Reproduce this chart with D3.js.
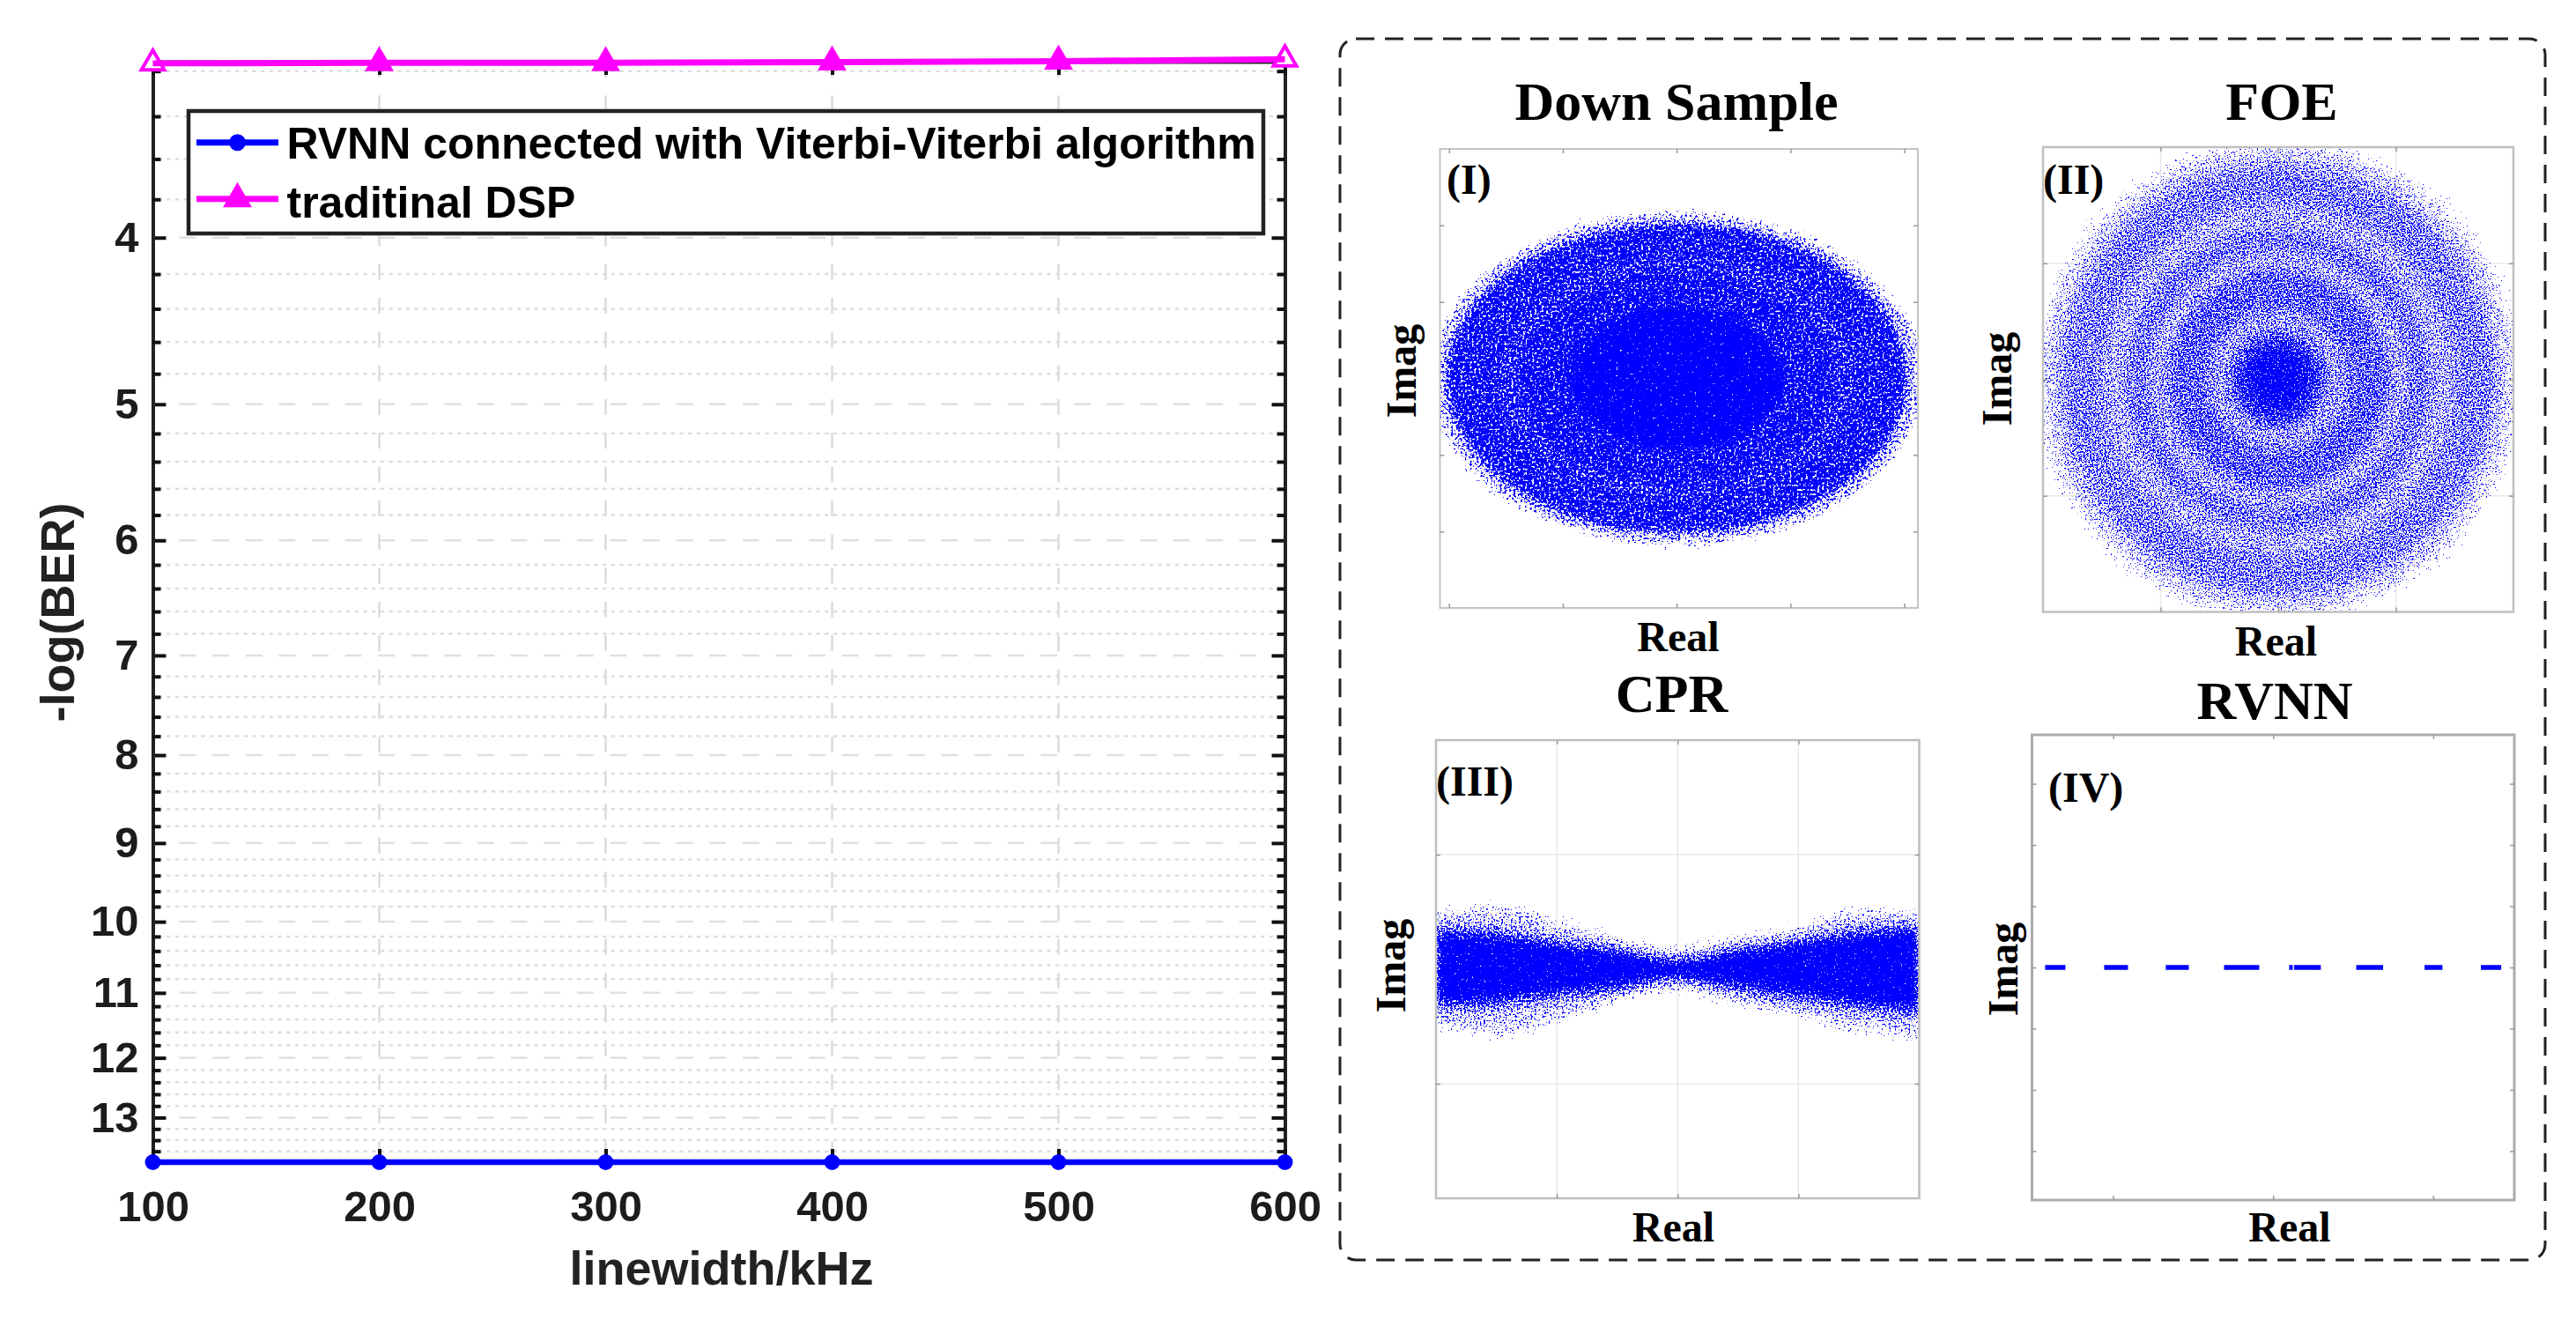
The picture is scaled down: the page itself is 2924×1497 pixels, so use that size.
<!DOCTYPE html>
<html>
<head>
<meta charset="utf-8">
<title>BER vs linewidth</title>
<script src="https://cdnjs.cloudflare.com/ajax/libs/d3/7.8.5/d3.min.js"></script>
<style>
body { margin:0; background:#fff; }
svg { display:block; }
.sans { font-family:"Liberation Sans",Arial,sans-serif; font-weight:bold; }
.serif { font-family:"Liberation Serif","Times New Roman",serif; font-weight:bold; }
</style>
</head>
<body>
<svg id="chart" width="2924" height="1497"></svg>
<script>
// left chart values
var linewidth = [100,200,300,400,500,600]
var rvnnBer = [13.8,13.8,13.8,13.8,13.8,13.8]
var dspBer = [3.167,3.165,3.165,3.162,3.158,3.15]
var yMajor = [4,5,6,7,8,9,10,11,12,13]
var yMinor = [3.2,3.4,3.6,3.8,4.2,4.4,4.6,4.8,5.2,5.4,5.6,5.8,6.2,6.4,6.6,6.8,7.2,7.4,7.6,7.8,
    8.2,8.4,8.6,8.8,9.2,9.4,9.6,9.8,10.2,10.4,10.6,10.8,11.2,11.4,11.6,11.8,12.2,12.4,12.6,12.8,13.2,13.4,13.6]
var legendLabels = ["RVNN connected with Viterbi-Viterbi algorithm","traditinal DSP"]

// panel I cloud, read as density bands (radius in axis units)
var bandInnerI = [2.02,1.55,1.4,0.95,0]
var bandOuterI = [2.14,2.02,1.55,1.4,0.95]
var bandDensityI = [0.35,0.92,0.84,0.98,1.3]

// panel II cloud
var bandInnerII = [1.85,1.5,1.3,1.1,0.95,0.6,0.4,0.27,0]
var bandOuterII = [2,1.85,1.5,1.3,1.1,0.95,0.6,0.4,0.27]
var bandDensityII = [0.25,0.52,0.36,0.56,0.36,0.64,0.42,0.85,1.15]

// panel III cloud, envelope read at each Real position
var cprX = [-2,-1.5,-1,-0.5,0,0.5,1,1.5,2]
var cprCoreUpper = [0.3,0.27,0.2,0.14,0.07,0.14,0.21,0.28,0.32]
var cprCoreLower = [-0.28,-0.25,-0.2,-0.14,-0.07,-0.14,-0.21,-0.28,-0.32]
var cprMidUpper = [0.37,0.34,0.25,0.19,0.1,0.19,0.27,0.35,0.38]
var cprMidLower = [-0.35,-0.32,-0.25,-0.19,-0.1,-0.19,-0.27,-0.35,-0.4]
var cprFringeUpper = [0.47,0.52,0.4,0.235,0.145,0.25,0.325,0.49,0.47]
var cprFringeLower = [-0.47,-0.54,-0.43,-0.235,-0.145,-0.27,-0.38,-0.5,-0.58]

// panel IV dashes on the Imag=0 line
var rvnnDashStart = [-1.425,-1.056,-0.671,-0.307,0.1,0.13,0.519,0.946,1.298]
var rvnnDashEnd = [-1.298,-0.907,-0.527,-0.087,0.122,0.298,0.687,1.058,1.425]

var blue = "#0000ff"
var magenta = "#ff00ff"

var svg = d3.select("#chart")
var defs = svg.append("defs")

// left chart ------------------------------------------------------
var plot = {left:173.5, right:1458.5, top:70, bottom:1319}

var xScale = d3.scaleLinear().domain([100,600]).range([plot.left,plot.right])
var yScale = d3.scaleLog().domain([3.16,13.8]).range([plot.top,plot.bottom])

var grid = svg.append("g").attr("id","grid")

grid.selectAll(".minor").data(yMinor).enter().append("line")
    .attr("class","minor")
    .attr("x1",plot.left+6).attr("x2",plot.right)
    .attr("y1",function(d){ return yScale(d) })
    .attr("y2",function(d){ return yScale(d) })
    .attr("stroke","#dedede").attr("stroke-width",2.5)
    .attr("stroke-dasharray","4.5 5.2")

grid.selectAll(".major").data(yMajor).enter().append("line")
    .attr("class","major")
    .attr("x1",plot.left).attr("x2",plot.right)
    .attr("y1",function(d){ return yScale(d) })
    .attr("y2",function(d){ return yScale(d) })
    .attr("stroke","#e0e0e0").attr("stroke-width",2.5)
    .attr("stroke-dasharray","19 18.6").attr("stroke-dashoffset",7.5)

grid.selectAll(".vert").data(linewidth.slice(1,5)).enter().append("line")
    .attr("class","vert")
    .attr("x1",function(d){ return xScale(d) })
    .attr("x2",function(d){ return xScale(d) })
    .attr("y1",plot.top).attr("y2",plot.bottom)
    .attr("stroke","#dcdcdc").attr("stroke-width",2.5)
    .attr("stroke-dasharray","18 20.3")

var drawAxis = function(axis, x, y)
{
    var g = svg.append("g")
        .attr("transform","translate("+x+","+y+")")
        .call(axis)
    g.select(".domain").attr("stroke","#222").attr("stroke-width",4)
    g.selectAll("line").attr("stroke","#111").attr("stroke-width",4)
    g.selectAll("text").attr("class","sans").attr("font-size",49).attr("fill","#1c1c1c")
    return g
}

drawAxis(d3.axisLeft(yScale).tickValues(yMajor).tickFormat(d3.format("d")).tickSize(-15).tickSizeOuter(0).tickPadding(16),plot.left,0)
drawAxis(d3.axisLeft(yScale).tickValues(yMinor).tickFormat("").tickSize(-9).tickSizeOuter(0),plot.left,0)
drawAxis(d3.axisRight(yScale).tickValues(yMajor).tickFormat("").tickSize(-15).tickSizeOuter(0),plot.right,0)
drawAxis(d3.axisRight(yScale).tickValues(yMinor).tickFormat("").tickSize(-9).tickSizeOuter(0),plot.right,0)
drawAxis(d3.axisBottom(xScale).tickValues(linewidth).tickFormat(d3.format("d")).tickSize(-15).tickSizeOuter(0).tickPadding(32),0,plot.bottom)
drawAxis(d3.axisTop(xScale).tickValues(linewidth).tickFormat("").tickSize(-15).tickSizeOuter(0),0,plot.top)

var line = d3.line()
    .x(function(d){ return xScale(d.x) })
    .y(function(d){ return yScale(d.y) })

var zipSeries = function(values)
{
    return linewidth.map(function(x,i){ return {x:x, y:values[i]} })
}

svg.append("path").datum(zipSeries(rvnnBer))
    .attr("d",line).attr("fill","none").attr("stroke",blue).attr("stroke-width",6.5)

svg.append("g").selectAll("circle").data(zipSeries(rvnnBer)).enter().append("circle")
    .attr("cx",function(d){ return xScale(d.x) })
    .attr("cy",function(d){ return yScale(d.y) })
    .attr("r",9).attr("fill",blue)

var triangle = d3.symbol().type(d3.symbolTriangle).size(292)

svg.append("g").selectAll("path").data(zipSeries(dspBer)).enter().append("path")
    .attr("d",triangle)
    .attr("transform",function(d){ return "translate("+xScale(d.x)+","+yScale(d.y)+")" })
    .attr("fill",function(d,i){ return (i==0||i==5) ? "#fff" : magenta })
    .attr("stroke",magenta).attr("stroke-width",4)
svg.append("path").datum(zipSeries(dspBer))
    .attr("d",line).attr("fill","none").attr("stroke",magenta).attr("stroke-width",7)

svg.append("text").attr("class","sans")
    .attr("x",819).attr("y",1458).attr("text-anchor","middle")
    .attr("font-size",54).attr("fill","#222").text("linewidth/kHz")

svg.append("text").attr("class","sans")
    .attr("transform","translate(84,695) rotate(-90)").attr("text-anchor","middle")
    .attr("font-size",54).attr("fill","#222").text("-log(BER)")

// legend
var legend = svg.append("g").attr("id","legend")
legend.append("rect")
    .attr("x",214).attr("y",126).attr("width",1220).attr("height",139)
    .attr("fill","#fff").attr("stroke","#222").attr("stroke-width",4.5)

var legendY = [161.7,225.7]
var legendBase = [180,246.5]
var legendColor = [blue,magenta]

legend.selectAll(".sample").data(legendLabels).enter().append("line")
    .attr("class","sample")
    .attr("x1",223).attr("x2",316)
    .attr("y1",function(d,i){ return legendY[i] })
    .attr("y2",function(d,i){ return legendY[i] })
    .attr("stroke",function(d,i){ return legendColor[i] }).attr("stroke-width",7)

legend.append("circle").attr("cx",269.5).attr("cy",legendY[0]).attr("r",9.5).attr("fill",blue)
legend.append("path").attr("d",triangle)
    .attr("transform","translate(269.5,"+legendY[1]+")")
    .attr("fill",magenta).attr("stroke",magenta).attr("stroke-width",4)

legend.selectAll("text").data(legendLabels).enter().append("text")
    .attr("class","sans")
    .attr("x",325.5)
    .attr("y",function(d,i){ return legendBase[i] })
    .attr("font-size",50).attr("fill","#000")
    .text(function(d){ return d })

// right panels ----------------------------------------------------
svg.append("rect")
    .attr("x",1521).attr("y",44).attr("width",1368).attr("height",1386)
    .attr("rx",18).attr("ry",18)
    .attr("fill","none").attr("stroke","#222").attr("stroke-width",3)
    .attr("stroke-dasharray","21 12")

// speckle texture for the dense clouds: noise is only a visual grain over the read bands
var speckle = function(id, density, freq, jitter)
{
    var f = defs.append("filter").attr("id",id)
        .attr("x","-50%").attr("y","-50%").attr("width","200%").attr("height","200%")
        .attr("color-interpolation-filters","sRGB")
    f.append("feTurbulence").attr("type","fractalNoise")
        .attr("baseFrequency",freq).attr("numOctaves",2).attr("seed",7).attr("result","n")
    f.append("feDisplacementMap").attr("in","SourceGraphic").attr("in2","n")
        .attr("scale",jitter).attr("xChannelSelector","R").attr("yChannelSelector","G").attr("result","d")
    var t = 0.65-0.35*density
    var c = f.append("feComponentTransfer").attr("in","n").attr("result","m")
    c.append("feFuncA").attr("type","linear").attr("slope",12).attr("intercept",-12*t)
    f.append("feComposite").attr("in","d").attr("in2","m").attr("operator","in")
    return "url(#"+id+")"
}

var drawFrame = function(p)
{
    p.g.append("rect")
        .attr("x",p.x0).attr("y",p.y0)
        .attr("width",p.x1-p.x0).attr("height",p.y1-p.y0)
        .attr("fill","none").attr("stroke",p.frame).attr("stroke-width",p.frameWidth)
}

var panelCount = 0

var makePanel = function(p)
{
    p.g = svg.append("g").attr("class","panel")
    p.sx = d3.scaleLinear().domain(p.xDomain).range([p.x0,p.x1])
    p.sy = d3.scaleLinear().domain(p.yDomain).range([p.y1,p.y0])

    panelCount = panelCount+1
    defs.append("clipPath").attr("id","clip"+panelCount)
        .append("rect")
        .attr("x",p.x0).attr("y",p.y0)
        .attr("width",p.x1-p.x0).attr("height",p.y1-p.y0)

    if(p.grid)
    {
        p.g.selectAll(".gx").data(p.xTicks).enter().append("line")
            .attr("x1",function(d){ return p.sx(d) }).attr("x2",function(d){ return p.sx(d) })
            .attr("y1",p.y0).attr("y2",p.y1)
            .attr("stroke","#e8e8e8").attr("stroke-width",1.5)
        p.g.selectAll(".gy").data(p.yTicks).enter().append("line")
            .attr("y1",function(d){ return p.sy(d) }).attr("y2",function(d){ return p.sy(d) })
            .attr("x1",p.x0).attr("x2",p.x1)
            .attr("stroke","#e8e8e8").attr("stroke-width",1.5)
    }
    p.cloud = p.g.append("g").attr("clip-path","url(#clip"+panelCount+")")
    return p
}

var drawTicks = function(p)
{
    var axes = [
        {a:d3.axisBottom(p.sx).tickValues(p.xTicks), x:0, y:p.y1},
        {a:d3.axisTop(p.sx).tickValues(p.xTicks), x:0, y:p.y0},
        {a:d3.axisLeft(p.sy).tickValues(p.yTicks), x:p.x0, y:0},
        {a:d3.axisRight(p.sy).tickValues(p.yTicks), x:p.x1, y:0}
    ]
    axes.forEach(function(s){
        var g = p.g.append("g")
            .attr("transform","translate("+s.x+","+s.y+")")
            .call(s.a.tickSize(-5).tickSizeOuter(0).tickFormat(""))
        g.select(".domain").remove()
        g.selectAll("line").attr("stroke","#999").attr("stroke-width",1.5)
    })
}

var drawLabels = function(p)
{
    var txt = function(x,y,size,s){
        return p.g.append("text").attr("class","serif")
            .attr("x",x).attr("y",y).attr("font-size",size).attr("fill","#000").text(s)
    }
    txt(p.titleX,p.titleY,62,p.title).attr("text-anchor","middle")
    txt(p.tagX,p.tagY,48,p.tag)
    txt(p.realX,p.realY,48,"Real").attr("text-anchor","middle")
    p.g.append("text").attr("class","serif")
        .attr("transform","translate("+p.imagX+","+p.imagY+") rotate(-90)")
        .attr("text-anchor","middle").attr("font-size",48).attr("fill","#000").text("Imag")
}

var ringPath = function(p, r0, r1)
{
    var cx = p.sx(0), cy = p.sy(0)
    var ell = function(r){
        var rx = p.sx(r)-cx, ry = cy-p.sy(r)
        return "M"+(cx-rx)+","+cy+"A"+rx+","+ry+" 0 1 0 "+(cx+rx)+","+cy+
            "A"+rx+","+ry+" 0 1 0 "+(cx-rx)+","+cy+"Z"
    }
    return r0>0 ? ell(r1)+ell(r0) : ell(r1)
}

var drawRings = function(p, inner, outer, density, freq, jitter)
{
    p.cloud.selectAll(".band").data(density).enter().append("path")
        .attr("class","band")
        .attr("d",function(d,i){ return ringPath(p,inner[i],outer[i]) })
        .attr("fill-rule","evenodd")
        .attr("fill",blue)
        .attr("filter",function(d,i){ return speckle(p.tag.replace(/\W/g,"")+"b"+i,d,freq,jitter) })
}

// panel I
var p1 = makePanel({x0:1634.5,x1:2177,y0:169,y1:690,xDomain:[-2.08,2.12],yDomain:[-3,3],
    xTicks:[-2,-1,0,1,2],yTicks:[-2,-1,1,2],grid:false,frame:"#c4c4c4",frameWidth:2,
    title:"Down Sample",titleX:1903,titleY:136,tag:"(I)",tagX:1642,tagY:220,
    realX:1905,realY:739,imagX:1607,imagY:421})
drawRings(p1,bandInnerI,bandOuterI,bandDensityI,0.38,30)
drawFrame(p1); drawTicks(p1); drawLabels(p1)

// panel II
var p2 = makePanel({x0:2319,x1:2853,y0:167,y1:694.5,xDomain:[-2,2],yDomain:[-2,2],
    xTicks:[-1,0,1],yTicks:[-1,0,1],grid:true,frame:"#c0c0c0",frameWidth:2.5,
    title:"FOE",titleX:2590,titleY:136,tag:"(II)",tagX:2319,tagY:220,
    realX:2583.5,realY:744,imagX:2283,imagY:430})
drawRings(p2,bandInnerII,bandOuterII,bandDensityII,0.55,60)
drawFrame(p2); drawTicks(p2); drawLabels(p2)

// panel III
var p3 = makePanel({x0:1630,x1:2178.5,y0:840,y1:1360,xDomain:[-2,2],yDomain:[-2,2],
    xTicks:[-1,0,1],yTicks:[-1,1],grid:true,frame:"#bdbdbd",frameWidth:2.5,
    title:"CPR",titleX:1897.5,titleY:808,tag:"(III)",tagX:1630,tagY:903,
    realX:1899.5,realY:1409,imagX:1595,imagY:1096})

var cprArea = function(upper, lower)
{
    return d3.area()
        .x(function(d,i){ return p3.sx(d) })
        .y0(function(d,i){ return p3.sy(lower[i]) })
        .y1(function(d,i){ return p3.sy(upper[i]) })
        .curve(d3.curveMonotoneX)(cprX)
}
var cprLayers = [
    {upper:cprFringeUpper, lower:cprFringeLower, density:0.25, jitter:40},
    {upper:cprMidUpper, lower:cprMidLower, density:0.88, jitter:50},
    {upper:cprCoreUpper, lower:cprCoreLower, density:1.3, jitter:30}
]
p3.cloud.selectAll(".layer").data(cprLayers).enter().append("path")
    .attr("class","layer")
    .attr("d",function(d){ return cprArea(d.upper,d.lower) })
    .attr("fill",blue)
    .attr("filter",function(d,i){ return speckle("cpr"+i,d.density,0.45,d.jitter) })
drawFrame(p3); drawTicks(p3); drawLabels(p3)

// panel IV
var p4 = makePanel({x0:2306.5,x1:2854,y0:834,y1:1362,xDomain:[-1.507,1.507],yDomain:[-3.8,3.8],
    xTicks:[-1,0,1],yTicks:[-3,-2,-1,0,1,2,3],grid:false,frame:"#ababab",frameWidth:3,
    title:"RVNN",titleX:2582,titleY:816,tag:"(IV)",tagX:2325,tagY:909.5,
    realX:2599,realY:1409,imagX:2290,imagY:1100})
p4.g.selectAll(".dash").data(rvnnDashStart).enter().append("line")
    .attr("class","dash")
    .attr("x1",function(d){ return p4.sx(d) })
    .attr("x2",function(d,i){ return p4.sx(rvnnDashEnd[i]) })
    .attr("y1",p4.sy(0)).attr("y2",p4.sy(0))
    .attr("stroke",blue).attr("stroke-width",5.5)
drawFrame(p4); drawTicks(p4); drawLabels(p4)
</script>
</body>
</html>
